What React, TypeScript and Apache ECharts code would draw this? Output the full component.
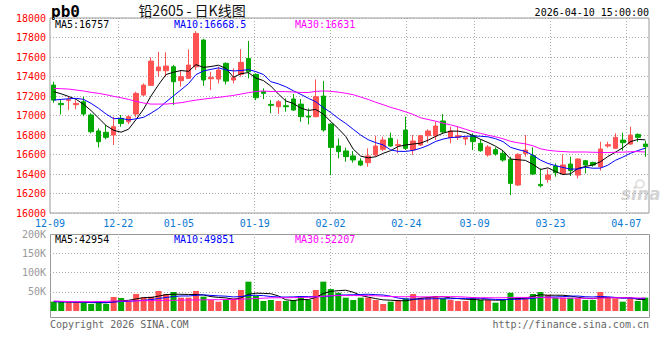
import React, { useEffect, useRef } from 'react';
import * as echarts from 'echarts';

// ---- data ----
const dates = [
  '12-09','12-10','12-11','12-12','12-15','12-16','12-17','12-18','12-19','12-22',
  '12-23','12-24','12-25','12-26','12-29','12-30','12-31','01-05','01-06','01-07',
  '01-08','01-09','01-12','01-13','01-14','01-15','01-16','01-19','01-20','01-21',
  '01-22','01-23','01-26','01-27','01-28','01-29','01-30','02-02','02-03','02-04',
  '02-05','02-06','02-09','02-10','02-11','02-12','02-13','02-24','02-25','02-26',
  '02-27','03-02','03-03','03-04','03-05','03-06','03-09','03-10','03-11','03-12',
  '03-13','03-16','03-17','03-18','03-19','03-20','03-23','03-24','03-25','03-26',
  '03-27','03-30','03-31','04-01','04-02','04-03','04-07','04-08','04-09','04-10',
];
const opens = [
  17312,17124,17155,17111,17141,17005,16841,16827,16799,16970,
  16936,17015,17210,17309,17459,17459,17500,17357,17381,17500,
  17774,17377,17374,17535,17364,17422,17586,17422,17244,17114,
  17090,17100,17169,17117,16994,16988,17199,16912,16687,16636,
  16585,16533,16516,16595,16653,16766,16694,16851,16646,16697,
  16793,16790,16944,16773,16776,16759,16793,16714,16595,16650,
  16612,16550,16287,16612,16588,16294,16345,16482,16406,16502,
  16389,16536,16519,16475,16687,16663,16748,16707,16806,16707,
];
const closes = [
  17158,17111,17162,17124,17015,16834,16731,16776,16885,16919,
  16988,17227,17312,17558,17497,17507,17346,17398,17517,17842,
  17364,17391,17466,17353,17388,17545,17449,17182,17227,17104,
  17141,17090,17056,16988,16984,17193,16851,16673,16629,16578,
  16544,16492,16585,16687,16749,16687,16701,16663,16738,16793,
  16841,16892,16831,16841,16793,16773,16732,16639,16677,16605,
  16543,16304,16601,16646,16400,16280,16389,16413,16492,16434,
  16554,16492,16492,16656,16700,16776,16721,16800,16776,16680,
];
const highs = [
  17346,17158,17199,17158,17193,17022,16868,16902,16988,17005,
  17005,17244,17329,17596,17654,17647,17517,17459,17678,17866,
  17784,17449,17500,17545,17483,17682,17764,17432,17278,17158,
  17158,17176,17220,17169,17073,17370,17353,16919,16765,16670,
  16636,16561,16663,16793,16783,16824,16755,16988,16800,16800,
  16858,16937,17015,16885,16885,16783,16817,16755,16697,16673,
  16646,16577,16612,16800,16673,16458,16448,16509,16601,16577,
  16560,16543,16526,16731,16731,16817,16824,16885,16817,16742,
];
const lows = [
  17131,17011,17056,17063,16994,16817,16673,16755,16697,16885,
  16912,16981,17199,17302,17398,17398,17107,17295,17381,17466,
  17305,17261,17329,17319,17329,17398,17381,17158,17169,17022,
  17015,17039,17049,16936,16909,16981,16834,16389,16560,16526,
  16516,16482,16475,16578,16636,16680,16612,16646,16595,16687,
  16721,16749,16817,16714,16749,16697,16646,16629,16578,16588,
  16526,16184,16277,16577,16389,16263,16311,16372,16389,16379,
  16355,16406,16475,16434,16670,16656,16639,16697,16731,16577,
];
const volumes = [
  24200,24200,22500,21600,21600,18200,26000,18200,36400,33800,
  24200,44100,35500,37200,51900,44100,49300,34600,34600,51900,
  37200,28600,24200,28600,32900,54500,76200,39000,26000,28600,
  26000,26000,28600,39000,28600,54500,76200,57000,47600,34600,
  28600,34600,34600,28600,18200,24200,28600,32900,44100,34600,
  34600,39000,32900,28600,26000,26000,35500,28600,28600,21600,
  28600,47600,34600,35500,44100,49300,41600,34600,34600,34600,
  32900,28600,28600,49300,34600,32900,24200,32900,26000,34600,
];
const ma5Lead = [17244, 17222, 17195, 17165];
const ma10Lead = [17158, 17165, 17172, 17176, 17165, 17124, 17073, 17015, 16967];
const ma30Lead = [
  17278,17275,17271,17261,17251,17237,17227,17213,17196,17182,
  17165,17145,17128,17117,17117,17117,17124,17131,17145,17158,
  17168,17178,17186,17196,17206,17220,17234,17246,17251,
];
const volMa5Lead = [24500, 24000, 23500, 22800];
const volMa10Lead = [24200, 24000, 23600, 23200, 23000, 22600, 22400, 22400, 23000];
const volMa30Lead = [
  26000,25200,24600,24200,24200,24200,24600,25100,26000,26000,
  26000,26400,26800,26800,27200,27700,27700,28200,28600,28600,
  29000,29400,29400,29800,30300,30800,31600,32400,33200,
];
const labelDates = ['12-09','12-22','01-05','01-19','02-02','02-24','03-09','03-23','04-07'];
const gridDates = ['12-22','01-19','02-02','02-24','03-09','03-23','04-07'];
const priceLegend = ['MA5:16757', 'MA10:16668.5', 'MA30:16631'];
const volLegend = ['MA5:42954', 'MA10:49851', 'MA30:52207'];

// ---- styles ----
const MONO = '"DejaVu Sans Mono", "Liberation Mono", monospace';
const UP = '#ff5353';
const DOWN = '#00a800';
const GRID_LINE = { color: '#aaaaaa', width: 1, type: [1, 2] as any };
const MA_COLORS = ['#000000', '#0000ff', '#ff00ff'];

function movingAverage(src: number[], n: number, lead: number[]) {
  return src.map((_, i) => {
    if (i < n - 1) return lead[i];
    let s = 0;
    for (let k = i - n + 1; k <= i; k++) s += src[k];
    return Math.round((s / n) * 10) / 10;
  });
}

export default function App() {
  const ref = useRef<HTMLDivElement>(null);
  useEffect(() => {
    if (!ref.current) return;
    const chart = echarts.init(ref.current, undefined, { renderer: 'svg' });
    const labelSet = new Set(labelDates);
    const gridSet = new Set(gridDates);
    const ohlc = dates.map((_, i) => [opens[i], closes[i], lows[i], highs[i]]);
    const ma5 = movingAverage(closes, 5, ma5Lead);
    const ma10 = movingAverage(closes, 10, ma10Lead);
    const ma30 = movingAverage(closes, 30, ma30Lead);
    const vma5 = movingAverage(volumes, 5, volMa5Lead);
    const vma10 = movingAverage(volumes, 10, volMa10Lead);
    const vma30 = movingAverage(volumes, 30, volMa30Lead);
    const vol = volumes.map((v, i) => ({
      value: v,
      itemStyle: { color: closes[i] >= opens[i] ? UP : DOWN },
    }));
    const lineSeries = (data: number[], color: string, xi: number, yi: number) => ({
      type: 'line', data, xAxisIndex: xi, yAxisIndex: yi, symbol: 'none', showSymbol: false,
      lineStyle: { color, width: 1 }, silent: true,
    });
    const legendTexts = (items: string[], y: number) => items.map((t, k) => ({
      type: 'text', x: [55, 174, 295][k], y,
      style: { text: t, font: `10px ${MONO}`, fill: MA_COLORS[k], textVerticalAlign: 'middle', verticalAlign: 'middle' },
    }));

    const option: any = {
      animation: false,
      backgroundColor: '#ffffff',
      textStyle: { fontFamily: MONO },
      grid: [
        { left: 50, top: 18, width: 599, height: 195, show: true, borderColor: '#999999', borderWidth: 1, backgroundColor: 'transparent' },
        { left: 50, top: 234, width: 599, height: 77, show: false },
      ],
      xAxis: [
        { type: 'category', gridIndex: 0, data: dates, boundaryGap: true, show: false },
        {
          type: 'category', gridIndex: 0, data: dates, boundaryGap: false, position: 'bottom',
          axisLine: { show: false }, axisTick: { show: false },
          axisLabel: {
            interval: (_i: number, v: string) => labelSet.has(v),
            color: '#0a78d2', fontSize: 10, fontFamily: MONO, margin: 5,
          },
          splitLine: { show: true, interval: (_i: number, v: string) => gridSet.has(v), lineStyle: GRID_LINE },
        },
        { type: 'category', gridIndex: 1, data: dates, boundaryGap: true, show: false },
        {
          type: 'category', gridIndex: 1, data: dates, boundaryGap: false, position: 'bottom',
          axisLine: { show: false }, axisTick: { show: false }, axisLabel: { show: false },
          splitLine: { show: true, interval: (_i: number, v: string) => gridSet.has(v), lineStyle: GRID_LINE },
        },
      ],
      yAxis: [
        {
          type: 'value', gridIndex: 0, min: 16000, max: 18000, interval: 200,
          axisLine: { show: false }, axisTick: { show: false },
          axisLabel: {
            color: '#ff0000', fontSize: 10, fontFamily: MONO, margin: 4, padding: [0, 0, 3, 0],
            formatter: (v: number) => String(v),
          },
          splitLine: { show: true, lineStyle: GRID_LINE },
        },
        {
          type: 'value', gridIndex: 1, min: 0, max: 200000, interval: 50000,
          axisLine: { show: false }, axisTick: { show: false },
          axisLabel: {
            color: '#999999', fontSize: 10, fontFamily: MONO, margin: 4,
            formatter: (v: number) => (v === 0 ? '' : `${v / 1000}K`),
          },
          splitLine: { show: true, showMinLine: false, showMaxLine: false, lineStyle: GRID_LINE },
        },
      ],
      series: [
        {
          type: 'candlestick', xAxisIndex: 0, yAxisIndex: 0, data: ohlc, barWidth: 5,
          itemStyle: { color: UP, color0: DOWN, borderColor: UP, borderColor0: DOWN, borderWidth: 1 },
          silent: true,
        },
        lineSeries(ma5, MA_COLORS[0], 0, 0),
        lineSeries(ma10, MA_COLORS[1], 0, 0),
        lineSeries(ma30, MA_COLORS[2], 0, 0),
        { type: 'bar', xAxisIndex: 2, yAxisIndex: 1, data: vol, barWidth: 6, silent: true },
        lineSeries(vma5, MA_COLORS[0], 2, 1),
        lineSeries(vma10, MA_COLORS[1], 2, 1),
        lineSeries(vma30, MA_COLORS[2], 2, 1),
      ],
      graphic: [
        { type: 'rect', shape: { x: 50.5, y: 234.5, width: 599, height: 83 }, style: { fill: 'none', stroke: '#999999', lineWidth: 1 }, silent: true },
        { type: 'text', x: 51, y: 11, style: { text: 'pb0', font: `bold 16px ${MONO}`, fill: '#000', textVerticalAlign: 'middle', verticalAlign: 'middle' } },
        { type: 'text', x: 192, y: 10, style: { text: '铅2605 - 日K线图', font: '14px "Noto Sans CJK SC", sans-serif', fill: '#111', textAlign: 'center', align: 'center', textVerticalAlign: 'middle', verticalAlign: 'middle' } },
        { type: 'text', x: 649, y: 12, style: { text: '2026-04-10 15:00:00', font: `10px ${MONO}`, fill: '#000', textAlign: 'right', align: 'right', textVerticalAlign: 'middle', verticalAlign: 'middle' } },
        ...legendTexts(priceLegend, 24),
        ...legendTexts(volLegend, 239),
        { type: 'text', x: 50, y: 324, style: { text: 'Copyright 2026 SINA.COM', font: `10px ${MONO}`, fill: '#666', textVerticalAlign: 'middle', verticalAlign: 'middle' } },
        { type: 'text', x: 649, y: 324, style: { text: 'http://finance.sina.com.cn', font: `10px ${MONO}`, fill: '#666', textAlign: 'right', align: 'right', textVerticalAlign: 'middle', verticalAlign: 'middle' } },
        { type: 'text', x: 621, y: 194, style: { text: 'sina', font: 'italic bold 17px "DejaVu Sans", sans-serif', fill: '#d4d4d4', textVerticalAlign: 'middle', verticalAlign: 'middle' }, silent: true },
        { type: 'ring', shape: { cx: 640, cy: 184, r: 5, r0: 3 }, style: { fill: '#e4e4e4' }, silent: true },
      ],
    };
    chart.setOption(option);
    return () => chart.dispose();
  }, []);
  return (
    <div
      ref={ref}
      style={{ position: 'absolute', left: 0, top: 0, width: 660, height: 360, background: '#fff' }}
    />
  );
}
